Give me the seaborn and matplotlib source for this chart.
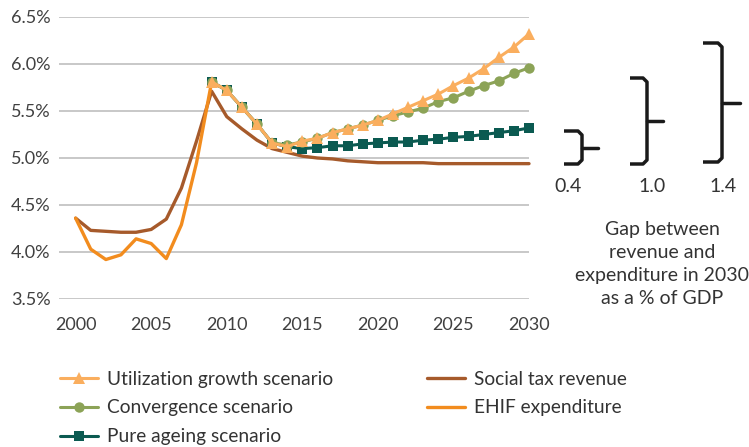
import numpy as np
import matplotlib
matplotlib.use("Agg")
import matplotlib.pyplot as plt
import seaborn as sns

# data (% of GDP)
years_all = list(range(2000, 2031))
social_tax = [4.36, 4.23, 4.22, 4.21, 4.21, 4.24, 4.35, 4.68, 5.18, 5.71, 5.44,
              5.31, 5.19, 5.10, 5.06, 5.02, 5.00, 4.99, 4.97, 4.96, 4.95,
              4.95, 4.95, 4.95, 4.94, 4.94, 4.94, 4.94, 4.94, 4.94, 4.94]

years_hist = list(range(2000, 2010))
ehif = [4.36, 4.03, 3.92, 3.97, 4.14, 4.09, 3.93, 4.29, 4.95, 5.81]

years_proj = list(range(2009, 2031))
pure_ageing = [5.81, 5.72, 5.54, 5.36, 5.16, 5.12, 5.10, 5.11, 5.13, 5.13, 5.15,
               5.16, 5.17, 5.17, 5.19, 5.20, 5.22, 5.23, 5.25, 5.27, 5.29, 5.32]
convergence = [5.81, 5.72, 5.54, 5.36, 5.16, 5.14, 5.17, 5.21, 5.27, 5.31, 5.35,
               5.40, 5.45, 5.49, 5.53, 5.60, 5.64, 5.71, 5.77, 5.82, 5.90, 5.96]
utilization = [5.81, 5.72, 5.54, 5.36, 5.16, 5.12, 5.18, 5.21, 5.27, 5.31, 5.35,
               5.40, 5.47, 5.54, 5.61, 5.68, 5.77, 5.85, 5.95, 6.07, 6.18, 6.32]

yticks = [3.5, 4.0, 4.5, 5.0, 5.5, 6.0, 6.5]
xticks = [2000, 2005, 2010, 2015, 2020, 2025, 2030]
gap_labels = ["0.4", "1.0", "1.4"]
note = "Gap between\nrevenue and\nexpenditure in 2030\nas a % of GDP"

sns.set_theme(style="white")
plt.rcParams['font.family'] = ['Lato', 'DejaVu Sans']

W, H = 749, 447
fig = plt.figure(figsize=(W / 100, H / 100), dpi=100)
ax = fig.add_axes([59 / W, 1 - 299 / H, 470 / W, 282 / H])

c_brown = "#A65A2B"
c_ehif = "#F28C1E"
c_util = "#FAAE5E"
c_conv = "#8CA357"
c_pure = "#0B5A51"

sns.lineplot(x=years_all, y=social_tax, ax=ax, color=c_brown, linewidth=2.4,
             label="Social tax revenue", clip_on=False, zorder=3)
sns.lineplot(x=years_hist, y=ehif, ax=ax, color=c_ehif, linewidth=2.4,
             label="EHIF expenditure", clip_on=False, zorder=3)
sns.lineplot(x=years_proj, y=pure_ageing, ax=ax, color=c_pure, linewidth=2.2,
             marker="s", markersize=7, markeredgewidth=0,
             label="Pure ageing scenario", clip_on=False, zorder=4)
sns.lineplot(x=years_proj, y=convergence, ax=ax, color=c_conv, linewidth=2.2,
             marker="o", markersize=7.5, markeredgewidth=0,
             label="Convergence scenario", clip_on=False, zorder=5)
sns.lineplot(x=years_proj, y=utilization, ax=ax, color=c_util, linewidth=2.2,
             marker="^", markersize=9, markeredgewidth=0,
             label="Utilization growth scenario", clip_on=False, zorder=6)

ax.set_xlim(1998.9, 2029.7)
ax.set_ylim(3.5, 6.5)
ax.set_yticks(yticks)
ax.set_yticklabels([f"{v:.1f}%" for v in yticks])
ax.set_xticks(xticks)
ax.set_xticklabels([str(v) for v in xticks])
ax.yaxis.grid(True, color="#BFBFBF", linewidth=1.2)
ax.xaxis.grid(False)
for s in ax.spines.values():
    s.set_visible(False)
ax.tick_params(axis="y", length=0, pad=6, labelsize=13, labelcolor="#404040")
ax.tick_params(axis="x", length=0, pad=13, labelsize=13, labelcolor="#404040")

# legend: two columns, scenarios first
h, l = ax.get_legend_handles_labels()
order = [4, 3, 2, 0, 1]
ax.get_legend().remove()
fig.legend([h[i] for i in order], [l[i] for i in order], ncol=2,
           loc="upper left", bbox_to_anchor=(50 / W, 1 - 361 / H),
           frameon=False, fontsize=13.8, handlelength=2.0, handletextpad=0.45,
           columnspacing=4.9, labelspacing=0.62, borderpad=0,
           labelcolor="#333333")


def brace(x0, x1, x2, ytop, ybot):
    r = 4
    ym = (ytop + ybot) / 2
    xs = [x0, x1 - r, x1, x1, x1, x1 - r, x0]
    ys = [ytop, ytop, ytop + r, ym, ybot - r, ybot, ybot]
    fig.add_artist(plt.Line2D([x / W for x in xs], [1 - y / H for y in ys],
                              color="#1A1A1A", linewidth=2.5,
                              solid_joinstyle="round", solid_capstyle="butt"))
    fig.add_artist(plt.Line2D([x1 / W, x2 / W], [1 - ym / H, 1 - ym / H],
                              color="#1A1A1A", linewidth=2.5))


brace(564, 582, 598, 131, 164)
brace(630, 647, 663, 78, 164)
brace(703, 722, 740, 43, 162)

for txt, x in zip(gap_labels, [568, 652, 723]):
    fig.text(x / W, 1 - 187 / H, txt, ha="center", va="center",
             fontsize=14, color="#333333")
fig.text(662 / W, 1 - 264 / H, note, ha="center", va="center",
         fontsize=14, color="#333333", linespacing=1.42)

fig.savefig("out.png", dpi=100, facecolor="white")
